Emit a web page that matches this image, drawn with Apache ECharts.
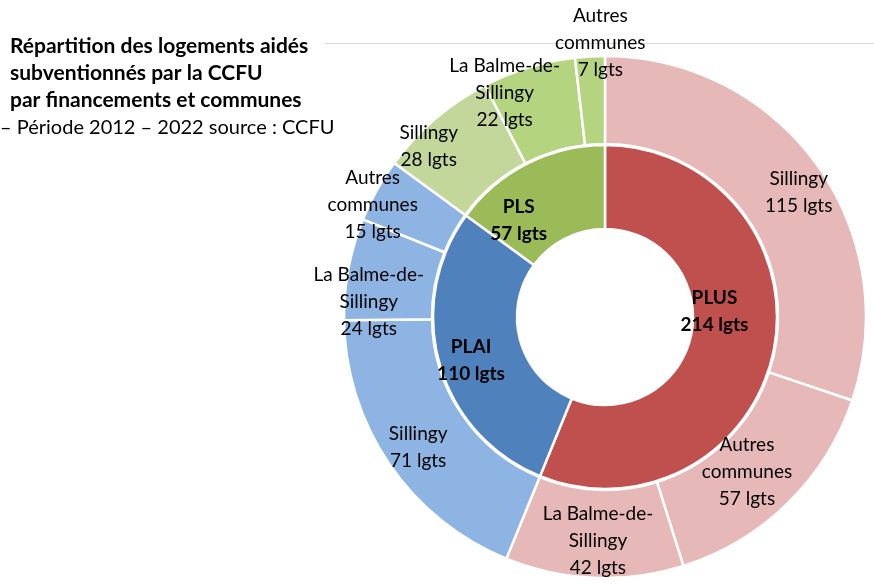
<!DOCTYPE html>
<html>
<head>
<meta charset="utf-8">
<script src="https://cdn.jsdelivr.net/npm/echarts@6/dist/echarts.min.js"></script>
<style>
  html, body { margin: 0; padding: 0; background: #fff; }
  #chart { width: 874px; height: 586px; }
</style>
</head>
<body>
<div id="chart"></div>
<script>
// Financements (inner ring)
const financements = ['PLUS', 'PLAI', 'PLS'];
const financementTotals = [214, 110, 57];

// Communes per financement (outer ring), in clockwise order
const communeNames = [
  'Sillingy', 'Autres communes', 'La Balme-de-Sillingy',
  'Sillingy', 'La Balme-de-Sillingy', 'Autres communes',
  'Sillingy', 'La Balme-de-Sillingy', 'Autres communes'
];
const communeLabels = [
  'Sillingy', 'Autres\ncommunes', 'La Balme-de-\nSillingy',
  'Sillingy', 'La Balme-de-\nSillingy', 'Autres\ncommunes',
  'Sillingy', 'La Balme-de-\nSillingy', 'Autres\ncommunes'
];
const communeValues = [115, 57, 42, 71, 24, 15, 28, 22, 7];

const titleLines = [
  'Répartition des logements aidés',
  'subventionnés par la CCFU',
  'par financements et communes'
];
const subtitle = '– Période 2012 – 2022 source : CCFU';

// Colours
const innerColors = ['#C0504D', '#4F81BD', '#9BBB59'];
const outerColors = [
  '#E6B8B7', '#E6B8B7', '#E6B8B7',
  '#8DB4E2', '#8DB4E2', '#8DB4E2',
  '#C4D79B', '#B5D47F', '#B5D47F'
];

// Fine placement of labels (dx, dy) relative to the slice centre
const innerShift = [[-21, -31], [-6, 7], [-26, 22]];
const outerShift = [[15, 4], [-12, -2], [2, 4], [-5, 7], [-20, 25], [-40, -5], [-33, -4], [-36, -14], [8, -54]];

const FONT = 'Lato, "Noto Sans", sans-serif';
const center = [605, 317];

const chart = echarts.init(document.getElementById('chart'), null, { renderer: 'canvas' });

chart.setOption({
  animation: false,
  textStyle: { fontFamily: FONT },
  graphic: [
    { type: 'line', shape: { x1: 325, y1: 43.5, x2: 874, y2: 43.5 }, style: { stroke: '#D9D9D9', lineWidth: 1 }, z: 0 },
    {
      type: 'text', left: 10, top: 33, z: 10,
      style: { text: titleLines.join('\n'), font: 'bold 21px ' + FONT, fill: '#000', lineHeight: 27 }
    },
    {
      type: 'text', left: 0, top: 114, z: 10,
      style: { text: subtitle, font: '20px ' + FONT, fill: '#000', lineHeight: 27 }
    }
  ],
  series: [
    {
      type: 'pie',
      center: center,
      radius: [88, 172],
      startAngle: 90,
      clockwise: true,
      avoidLabelOverlap: false,
      itemStyle: { borderColor: '#fff', borderWidth: 2.5 },
      label: {
        position: 'inside',
        color: '#000',
        fontWeight: 'bold',
        fontSize: 19,
        lineHeight: 27,
        formatter: p => p.name + '\n' + p.value + ' lgts'
      },
      labelLayout: p => ({ dx: innerShift[p.dataIndex][0], dy: innerShift[p.dataIndex][1] }),
      emphasis: { disabled: true },
      data: financements.map((n, i) => ({ name: n, value: financementTotals[i], itemStyle: { color: innerColors[i] } }))
    },
    {
      type: 'pie',
      center: center,
      radius: [173, 261],
      startAngle: 90,
      clockwise: true,
      avoidLabelOverlap: false,
      itemStyle: { borderColor: '#fff', borderWidth: 2.5 },
      label: {
        position: 'inside',
        color: '#000',
        fontSize: 19,
        lineHeight: 27,
        formatter: p => communeLabels[p.dataIndex] + '\n' + p.value + ' lgts'
      },
      labelLayout: p => ({ dx: outerShift[p.dataIndex][0], dy: outerShift[p.dataIndex][1] }),
      emphasis: { disabled: true },
      data: communeNames.map((n, i) => ({ name: n, value: communeValues[i], itemStyle: { color: outerColors[i] } }))
    }
  ]
});
</script>
</body>
</html>
